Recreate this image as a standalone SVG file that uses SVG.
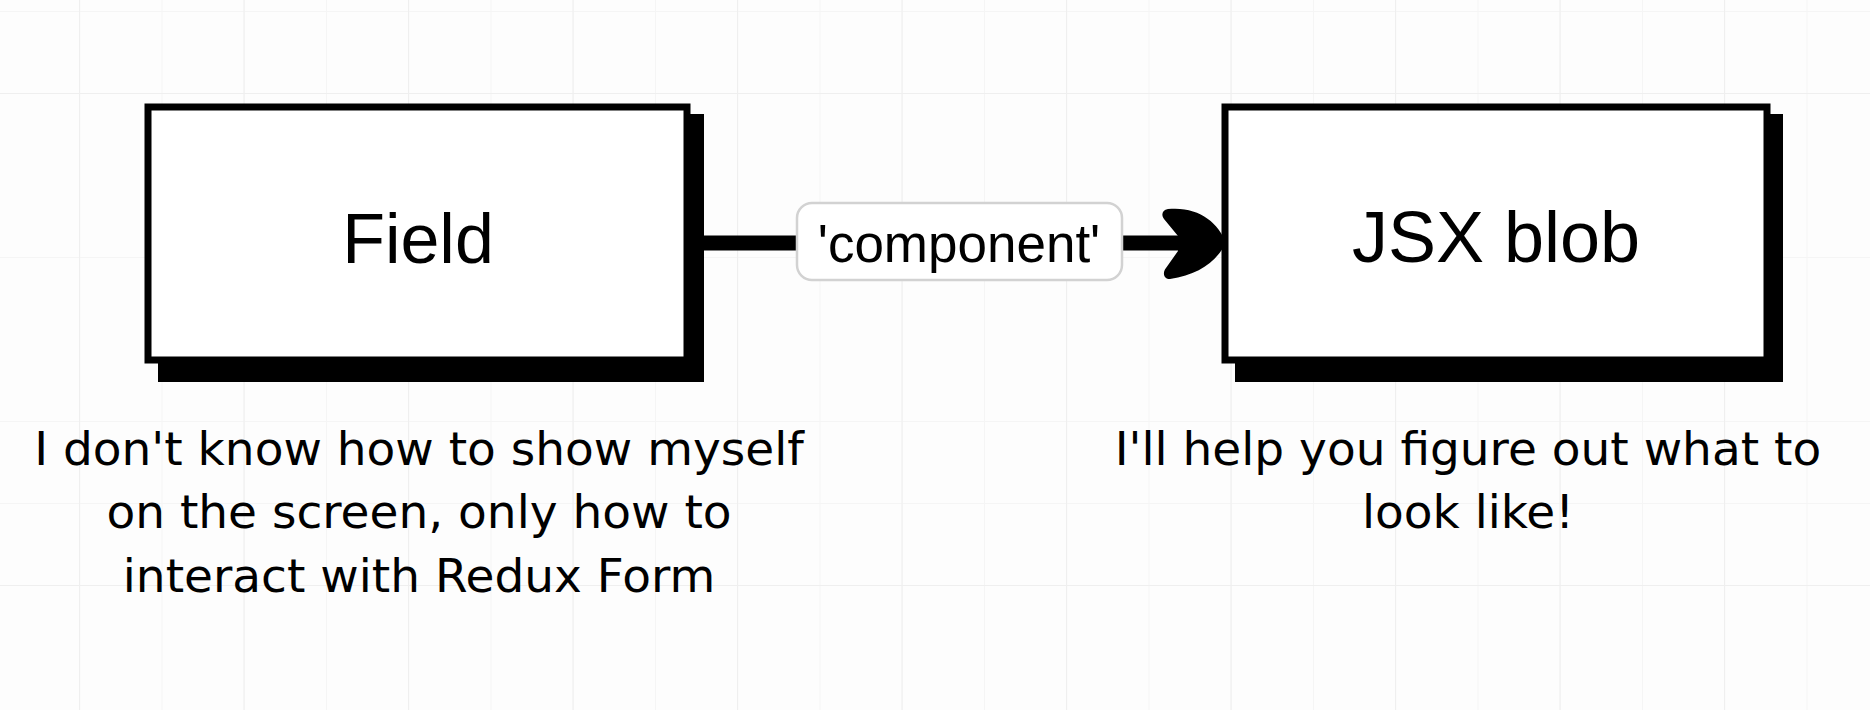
<svg xmlns="http://www.w3.org/2000/svg" width="1870" height="710" viewBox="0 0 1870 710">
  <defs>
    <pattern id="minor" x="-3" y="11" width="82.25" height="82" patternUnits="userSpaceOnUse">
      <path d="M0,0 H82.25 M0,0 V82" fill="none" stroke="#f5f5f5" stroke-width="2"/>
    </pattern>
    <pattern id="major" x="79" y="93" width="164.5" height="164" patternUnits="userSpaceOnUse">
      <path d="M0,0 H164.5 M0,0 V164" fill="none" stroke="#efefef" stroke-width="2"/>
    </pattern>
  </defs>
  <style>
    .box { fill: #ffffff; stroke: #000000; stroke-width: 7; }
    .shadow { fill: #000000; }
    .title { font-family: "Liberation Sans", Arial, sans-serif; fill: #000; text-anchor: middle; }
    .desc { font-family: "DejaVu Sans", "Liberation Sans", sans-serif; font-size: 47px; fill: #000; text-anchor: middle; }
    .lbl { fill: #ffffff; stroke: #d2d2d2; stroke-width: 2.5; }
  </style>
  <rect width="1870" height="710" fill="#fdfdfd"/>
  <rect width="1870" height="710" fill="url(#minor)"/>
  <rect width="1870" height="710" fill="url(#major)"/>

  <g id="connectors">
    <line x1="704" y1="243" x2="1180" y2="243" stroke="#000" stroke-width="15"/>
    <path d="M1226,243 C1218,222 1198,206 1168,209 C1162,210 1161,215 1164,219 L1178,236 L1178,251 L1166,268 C1162,273 1164,279 1170,279 C1198,275 1216,262 1226,243 Z" fill="#000"/>
    <g id="edge-label">
      <rect class="lbl" x="797" y="203" width="325" height="77" rx="15"/>
      <text class="title" x="959" y="262" font-size="53">'component'</text>
    </g>
  </g>

  <g id="node-field">
    <rect class="shadow" x="158" y="114" width="546" height="268"/>
    <rect class="box" x="148" y="107" width="539" height="253"/>
    <text class="title" x="418" y="263" font-size="70">Field</text>
  </g>

  <g id="node-jsx">
    <rect class="shadow" x="1235" y="114" width="548" height="268"/>
    <rect class="box" x="1225" y="107" width="542" height="253"/>
    <text class="title" x="1496" y="262" font-size="72">JSX blob</text>
  </g>

  <g id="note-field">
    <text class="desc" x="419" y="465">I don't know how to show myself</text>
    <text class="desc" x="419" y="528">on the screen, only how to</text>
    <text class="desc" x="419" y="592">interact with Redux Form</text>
  </g>

  <g id="note-jsx">
    <text class="desc" x="1468" y="465">I'll help you figure out what to</text>
    <text class="desc" x="1468" y="528">look like!</text>
  </g>
</svg>
